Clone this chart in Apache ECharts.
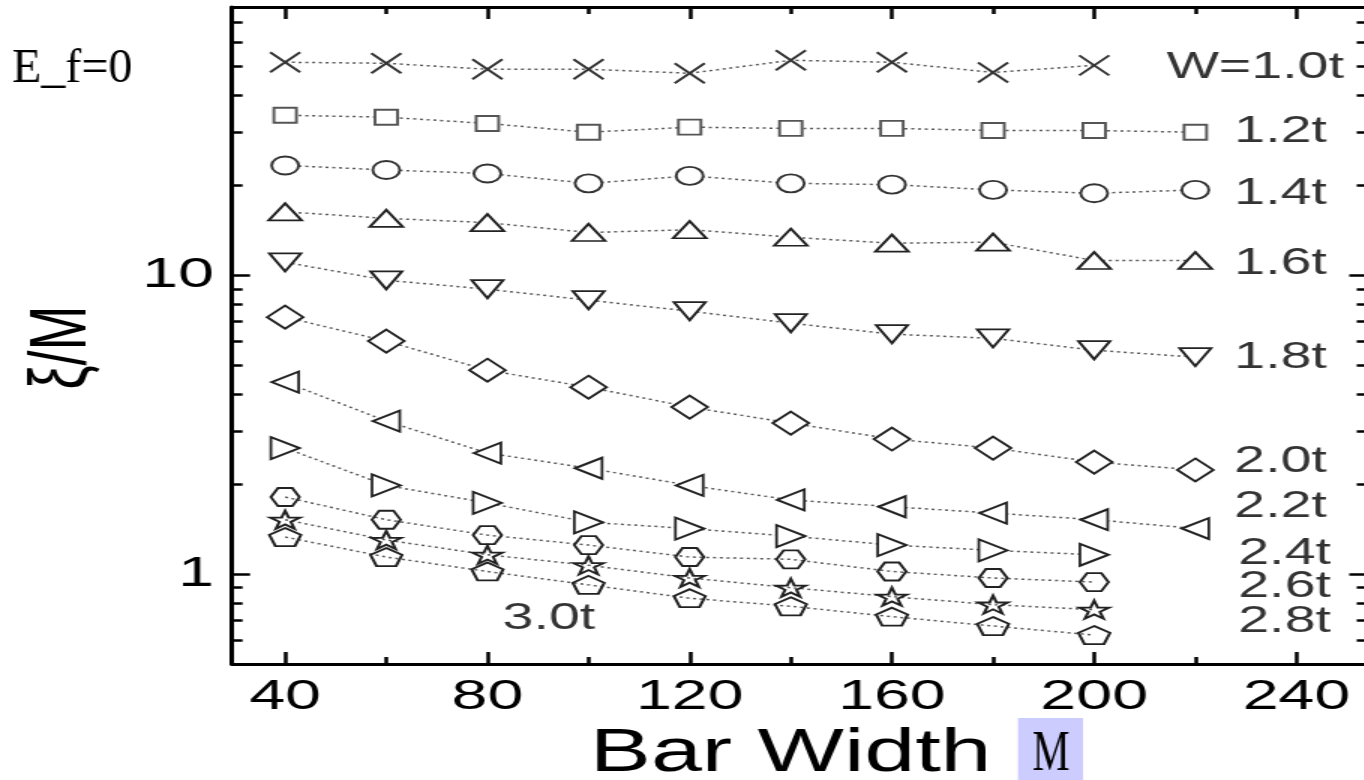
<!DOCTYPE html>
<html>
<head>
<meta charset="utf-8">
<script src="https://cdn.jsdelivr.net/npm/echarts@6/dist/echarts.min.js"></script>
<style>
html, body { margin: 0; padding: 0; overflow: hidden; background: #fff; width: 1364px; height: 780px; }
#chart { width: 912px; height: 780px; transform: scaleX(1.5); transform-origin: 0 0; }
</style>
</head>
<body>
<div id="chart"></div>
<script>
// ---------------- data ----------------
const xValues = [40, 60, 80, 100, 120, 140, 160, 180, 200, 220];
const seriesNames = ['W=1.0t', '1.2t', '1.4t', '1.6t', '1.8t', '2.0t', '2.2t', '2.4t', '2.6t', '2.8t', '3.0t'];
const w10 = [51.6, 51.2, 48.9, 48.9, 47.4, 52.4, 51.6, 47.7, 50.4];
const w12 = [34.3, 33.8, 32.2, 30.1, 31.3, 31.0, 31.0, 30.5, 30.5, 30.1];
const w14 = [23.3, 22.5, 21.9, 20.3, 21.5, 20.3, 20.1, 19.3, 18.8, 19.3];
const w16 = [16.3, 15.5, 15.0, 13.9, 14.2, 13.4, 12.8, 12.9, 11.2, 11.2];
const w18 = [11.05, 9.62, 8.98, 8.25, 7.58, 6.91, 6.35, 6.15, 5.61, 5.32];
const w20 = [7.24, 6.02, 4.81, 4.22, 3.62, 3.20, 2.83, 2.64, 2.37, 2.23];
const w22 = [4.39, 3.25, 2.54, 2.26, 1.98, 1.77, 1.68, 1.60, 1.52, 1.42];
const w24 = [2.64, 1.98, 1.73, 1.49, 1.42, 1.34, 1.25, 1.20, 1.16];
const w26 = [1.81, 1.52, 1.35, 1.25, 1.14, 1.12, 1.02, 0.97, 0.94];
const w28 = [1.52, 1.30, 1.16, 1.07, 0.97, 0.90, 0.84, 0.79, 0.76];
const w30 = [1.33, 1.14, 1.02, 0.92, 0.83, 0.78, 0.72, 0.67, 0.625];
const seriesValues = [w10, w12, w14, w16, w18, w20, w22, w24, w26, w28, w30];

const xMajorTicks = [40, 80, 120, 160, 200, 240];
const xMinorTicks = [60, 100, 140, 180, 220];
const yMinorTicks = [0.6, 0.7, 0.8, 0.9, 2, 3, 4, 5, 6, 7, 8, 9, 20, 30, 40, 50, 60, 70];

const annText = ['W=1.0t', '1.2t', '1.4t', '1.6t', '1.8t', '2.0t', '2.2t', '2.4t', '2.6t', '2.8t', '3.0t'];
const annX = [214.3, 227.7, 227.7, 227.7, 227.7, 227.7, 227.7, 228.5, 228.5, 228.5, 83];
const annY = [49.4, 30.1, 18.8, 10.9, 5.28, 2.37, 1.675, 1.167, 0.905, 0.691, 0.707];

// ---------------- styles ----------------
const SX = 1.5;
const FONT = '"Liberation Sans", Arial, sans-serif';
const crossPath = 'path://M0,0L100,100M100,0L0,100';
const hexPath = 'path://M25,0L75,0L100,50L75,100L25,100L0,50Z';
const starPath = 'path://M50,0L61.23,34.55L97.55,34.55L68.17,55.9L79.39,90.45L50,69.1L20.61,90.45L31.83,55.9L2.45,34.55L38.77,34.55Z';
const pentPath = 'path://M50,0L97.55,34.55L79.39,90.45L20.61,90.45L2.45,34.55Z';
const symbolStyles = [
  { symbol: crossPath, size: [20, 20], rotate: 0, fill: '#fff', stroke: '#333' },
  { symbol: 'rect', size: [15, 15], rotate: 0, fill: '#fff', stroke: '#555' },
  { symbol: 'circle', size: [18, 18], rotate: 0, fill: '#fff', stroke: '#333' },
  { symbol: 'triangle', size: [22, 17], rotate: 0, fill: '#fff', stroke: '#222' },
  { symbol: 'triangle', size: [21, 18], rotate: 180, fill: '#fff', stroke: '#222' },
  { symbol: 'diamond', size: [24, 23], rotate: 0, fill: '#fff', stroke: '#222' },
  { symbol: 'triangle', size: [21, 18], rotate: 90, fill: '#fff', stroke: '#222' },
  { symbol: 'triangle', size: [22, 19], rotate: -90, fill: '#fff', stroke: '#222' },
  { symbol: hexPath, size: [19, 18], rotate: 0, fill: 'rgba(0,0,0,0)', stroke: '#222' },
  { symbol: starPath, size: [20, 18], rotate: 0, fill: 'rgba(0,0,0,0)', stroke: '#222' },
  { symbol: pentPath, size: [21, 18], rotate: 0, fill: 'rgba(0,0,0,0)', stroke: '#222' }
];

const chart = echarts.init(document.getElementById('chart'), null, { renderer: 'canvas' });

const X_MIN = 29.5, X_MAX = 254, Y_MIN = 0.5, Y_MAX = 79;
const LMIN = Math.log10(Y_MIN), LMAX = Math.log10(Y_MAX);

function xAxisDef(pos, major) {
  const ax = {
    type: 'value', position: pos, min: X_MIN, max: X_MAX,
    axisLine: { show: major, onZero: false, lineStyle: { color: '#000', width: 3 } },
    axisTick: { show: true, inside: true, length: major ? 12 : 7, customValues: major ? xMajorTicks : xMinorTicks,
      lineStyle: { color: '#000', width: 2.5 } },
    axisLabel: { show: false },
    splitLine: { show: false }
  };
  if (pos === 'bottom' && major) {
    ax.axisLabel = { show: true, customValues: xMajorTicks, color: '#000', fontSize: 43, fontFamily: FONT, margin: 12 };
    ax.name = 'Bar Width';
    ax.nameLocation = 'middle';
    ax.nameGap = 52;
    ax.nameTextStyle = { color: '#000', fontSize: 61, fontFamily: FONT, padding: [0, 12, 0, 0] };
  }
  return ax;
}

const series = seriesValues.map((vals, si) => {
  const st = symbolStyles[si];
  return {
    type: 'line', name: seriesNames[si], xAxisIndex: 0, yAxisIndex: 0,
    data: vals.map((v, i) => [xValues[i], v]),
    symbol: st.symbol, symbolSize: st.size, symbolRotate: st.rotate,
    itemStyle: { color: st.fill, borderColor: st.stroke, borderWidth: 1.9 },
    lineStyle: { color: '#5a5a5a', width: 1.5, type: [2, 2.5] },
    emphasis: { disabled: true }, silent: true, z: 2 + si * 0.01
  };
});

series.push({
  type: 'scatter', name: 'labels', xAxisIndex: 0, yAxisIndex: 0,
  data: annX.map((x, i) => [x, annY[i], annText[i]]),
  symbolSize: 0, silent: true, z: 5,
  label: { show: true, position: 'right', distance: 0, formatter: p => p.data[2],
    color: '#000', fontSize: 37, fontFamily: FONT }
});

const option = {
  animation: false,
  backgroundColor: '#fff',
  grid: { left: 154.7, right: 0.5, top: 7, bottom: 116, outerBoundsMode: 'none', containLabel: false },
  xAxis: [xAxisDef('bottom', true), xAxisDef('bottom', false), xAxisDef('top', true), xAxisDef('top', false)],
  yAxis: [
    { type: 'log', logBase: 10, position: 'left', min: Y_MIN, max: Y_MAX,
      axisLine: { show: true, onZero: false, lineStyle: { color: '#000', width: 3 } },
      axisTick: { show: true, inside: true, length: 12, lineStyle: { color: '#000', width: 2.5 } },
      axisLabel: { show: true, color: '#000', fontSize: 43, fontFamily: FONT, margin: 12, showMinLabel: false, showMaxLabel: false },
      splitLine: { show: false },
      name: 'ξ/M', nameLocation: 'middle', nameGap: 86,
      nameTextStyle: { color: '#000', fontSize: 54, fontFamily: FONT, padding: [0, 24, 0, 0] } },
    { type: 'value', position: 'left', min: LMIN, max: LMAX,
      axisLine: { show: false, onZero: false },
      axisTick: { show: true, inside: true, length: 7, customValues: yMinorTicks.map(v => Math.log10(v)), lineStyle: { color: '#000', width: 2.5 } },
      axisLabel: { show: false }, splitLine: { show: false } },
    { type: 'log', logBase: 10, position: 'right', min: Y_MIN, max: Y_MAX,
      axisLine: { show: true, onZero: false, lineStyle: { color: '#000', width: 3 } },
      axisTick: { show: true, inside: true, length: 12, lineStyle: { color: '#000', width: 2.5 } },
      axisLabel: { show: false }, splitLine: { show: false } },
    { type: 'value', position: 'right', min: LMIN, max: LMAX,
      axisLine: { show: false, onZero: false },
      axisTick: { show: true, inside: true, length: 7, customValues: yMinorTicks.map(v => Math.log10(v)), lineStyle: { color: '#000', width: 2.5 } },
      axisLabel: { show: false }, splitLine: { show: false } }
  ],
  graphic: [
    { type: 'text', x: 8, y: 69, scaleX: 1 / SX, silent: true,
      style: { text: 'E_f=0', font: '48px "Liberation Serif", "Times New Roman", serif', fill: '#000', align: 'left', verticalAlign: 'middle' } },
    { type: 'rect', x: 1018 / SX, y: 718, silent: true, shape: { width: 65 / SX, height: 62 }, style: { fill: '#ccccff' } },
    { type: 'text', x: 1051 / SX, y: 755, scaleX: 0.5, silent: true, z: 10,
      style: { text: 'M', font: '56px "Liberation Serif", "Times New Roman", serif', fill: '#000', align: 'center', verticalAlign: 'middle' } }
  ],
  series: series
};
chart.setOption(option);
</script>
</body>
</html>
